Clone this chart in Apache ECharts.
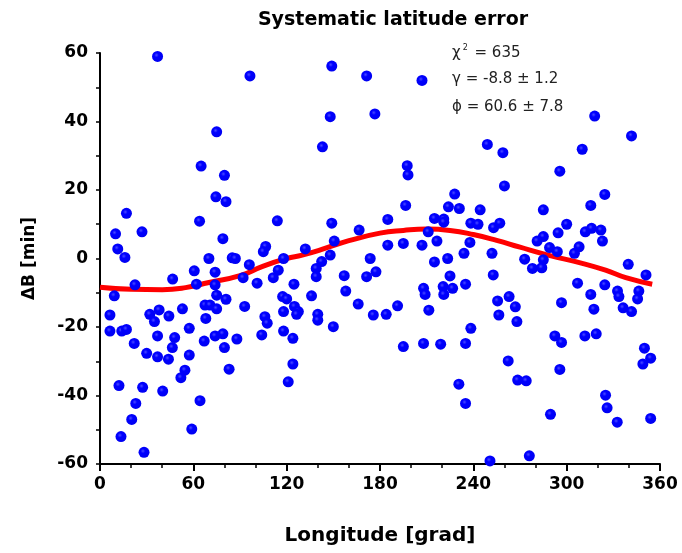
<!DOCTYPE html>
<html>
<head>
<meta charset="utf-8">
<script src="https://cdn.jsdelivr.net/npm/echarts@6/dist/echarts.min.js"></script>
<style>html,body{margin:0;padding:0;background:#fff}#c{width:682px;height:553px}</style>
</head>
<body>
<div id="c"></div>
<script>
// Chart values
var titleText = 'Systematic latitude error';
var xName = 'Longitude [grad]';
var yName = '\u0394B [min]';
var xTicks = [0, 60, 120, 180, 240, 300, 360];
var yTicks = [-60, -40, -20, 0, 20, 40, 60];
var fitLines = ['\u03c7{s|2} = 635', '\u03b3 = -8.8 \u00b1 1.2', '\u03d5 = 60.6 \u00b1 7.8'];

// Observed points [longitude, deltaB]
var pointsA = [[37,59],[75,37],[65,27],[80,24.3],[74.5,18],[81,16.6],[17,13.2],[64,10.9],[10,7.2],[27,7.8],[79,5.8],[11.4,2.8],[16,0.3],[70,0],[85,0.2]];
var pointsB = [[96.4,53.3],[149,56.2],[171.4,53.3],[148,41.4],[176.7,42.2],[143,32.6],[114,11],[149,10.3],[166.6,8.3],[106.5,3.5],[105,2],[150.6,5.1],[132,2.8],[148,1],[142.5,-0.9],[118,0],[173.7,0],[87,0],[96,-1.8]];
var pointsC = [[207,52],[249,33.3],[259,30.9],[197.5,27.1],[198,24.4],[260,21.2],[228,18.8],[196.5,15.5],[224,15.1],[231,14.6],[244.4,14.2],[185,11.4],[215,11.7],[221,11.5],[221,10.6],[238.4,10.3],[243,10],[253,9],[257,10.3],[211,7.8],[185,3.9],[195,4.4],[207,3.9],[216.6,5.1],[237.8,4.7],[234,1.5],[223.5,0],[215,-1],[252,1.5]];
var pointsD = [[318,41.6],[341.7,35.8],[310,31.9],[295.6,25.5],[324.5,18.7],[315.5,15.5],[285,14.2],[300,10],[294.5,7.5],[312,7.8],[316,8.8],[322,8.3],[323,5.1],[285,6.4],[281,5.1],[289,3.2],[294,2],[308,3.4],[305,1.5],[273,-0.2],[285,-0.4],[339.6,-1.7]];
var pointsE = [[60.6,-3.6],[74,-4],[46.7,-6],[22.5,-7.7],[62,-7.5],[74,-7.7],[75,-10.7],[9.2,-10.9],[81,-11.9],[67.5,-13.6],[70.7,-13.6],[75,-14.7],[53,-14.7],[38,-15],[32,-16.3],[35,-18.4],[44.3,-16.8],[6.4,-16.5],[68,-17.5],[57.4,-20.4],[6.4,-21.2],[14,-21.2],[17,-20.7],[37,-22.6],[48,-23.1],[74,-22.6],[79,-22],[67,-24.1],[88,-23.5],[22,-24.8],[46.5,-26],[80,-26],[30,-27.7],[37,-28.7],[44,-29.4],[57.4,-28.2],[54.6,-32.6],[52,-34.8],[83,-32.3],[12.2,-37.1],[27.4,-37.6],[40.3,-38.7],[23,-42.3],[64.3,-41.5],[20.4,-47],[13.5,-52],[59,-49.8],[28.3,-56.6]];
var pointsF = [[92,-5.6],[101,-7.2],[111.4,-5.6],[114.6,-3.4],[124.7,-7.5],[117.4,-11.1],[120,-11.8],[136,-10.9],[139,-2.9],[139,-5.3],[157,-5],[158,-9.5],[171.4,-5.3],[177.4,-3.9],[166,-13.3],[175.7,-16.5],[93,-14],[106,-17],[107.5,-18.9],[118,-15.5],[125,-14],[127.5,-15.5],[126.4,-16.3],[140,-16.3],[140,-18],[150,-19.9],[104,-22.3],[118,-21.2],[124,-23.3],[124,-30.8],[121,-36]];
var pointsG = [[225,-5.1],[235,-7.5],[252.8,-4.8],[208,-8.7],[209,-10.5],[220.6,-8.2],[226.7,-8.7],[221,-10.5],[191.3,-13.8],[184,-16.3],[211.4,-15.1],[238.4,-20.4],[255.6,-12.4],[263,-11.1],[267,-14.1],[256.4,-16.5],[268,-18.4],[195,-25.7],[208,-24.8],[219,-25],[235,-24.8],[262.4,-29.9],[268.5,-35.5],[230.7,-36.7],[235,-42.3],[250.7,-59.1]];
var pointsH = [[284,-2.7],[278,-2.9],[351,-4.8],[307,-7.2],[324.5,-7.7],[315.5,-10.5],[332.7,-9.5],[333.6,-11.1],[346.4,-9.5],[345.6,-11.8],[336.3,-14.4],[341.7,-15.5],[296.7,-12.9],[317.5,-14.8],[292.4,-22.6],[296.7,-24.5],[311.7,-22.6],[319,-22],[350,-26.2],[354,-29.1],[349,-30.8],[295.6,-32.4],[274,-35.7],[325,-39.9],[326,-43.6],[332.5,-47.8],[354,-46.7],[289.6,-45.5],[276,-57.6]];

// Fitted curve
var fitX = [0, 20, 40, 55, 70, 90, 105, 120, 130, 145, 160, 180, 195, 210, 225, 240, 255, 270, 288, 310, 325, 338, 355];
var fitY = [-8.4, -9, -9.1, -8.5, -7, -5, -2.2, 0, 1, 3, 5.2, 7.4, 8.2, 8.6, 8.2, 7, 5.3, 3.3, 1, -1.4, -3.4, -5.6, -7.5];

var points = [].concat(pointsA, pointsB, pointsC, pointsD, pointsE, pointsF, pointsG, pointsH);
var fitData = fitX.map(function (x, i) { return [x, fitY[i]]; });

var FONT = 'DejaVu Sans';
var chart = echarts.init(document.getElementById('c'), null, {renderer: 'canvas'});
chart.setOption({
  animation: false,
  backgroundColor: '#ffffff',
  title: {
    text: titleText, left: 388, top: 6, textAlign: 'center',
    textStyle: {fontFamily: FONT, fontSize: 19, fontWeight: 'bold', color: '#000'}
  },
  grid: {left: 100, right: 22, top: 53, bottom: 89, containLabel: false},
  xAxis: {
    type: 'value', min: xTicks[0], max: xTicks[xTicks.length - 1], interval: 60,
    name: xName, nameLocation: 'middle', nameGap: 62,
    nameTextStyle: {fontFamily: FONT, fontSize: 20, fontWeight: 'bold', color: '#000'},
    axisLine: {onZero: false, lineStyle: {color: '#000', width: 2}},
    axisTick: {inside: false, length: 7, lineStyle: {color: '#000', width: 2}},
    minorTick: {show: true, splitNumber: 3, length: 4, lineStyle: {color: '#000', width: 1.5}},
    splitLine: {show: false},
    axisLabel: {fontFamily: FONT, fontSize: 17, fontWeight: 'bold', color: '#000', margin: 12,
      formatter: function (v) { return xTicks.indexOf(v) >= 0 ? String(v) : ''; }}
  },
  yAxis: {
    type: 'value', min: yTicks[0], max: yTicks[yTicks.length - 1], interval: 10,
    name: yName, nameLocation: 'middle', nameGap: 62, nameRotate: 90,
    nameTextStyle: {fontFamily: FONT, fontSize: 17, fontWeight: 'bold', color: '#000'},
    axisLine: {onZero: false, lineStyle: {color: '#000', width: 2}},
    axisTick: {inside: false, length: 4, lineStyle: {color: '#000', width: 1.5}},
    splitLine: {show: false},
    axisLabel: {fontFamily: FONT, fontSize: 17, fontWeight: 'bold', color: '#000', margin: 12,
      formatter: function (v) { return yTicks.indexOf(v) >= 0 ? String(v) : ''; }}
  },
  graphic: fitLines.map(function (t, i) {
    return {
      type: 'text', left: 452, top: 44 + i * 28, z: 100,
      style: {
        text: t, fill: '#222', font: '15px "' + FONT + '"',
        rich: {s: {fontSize: 8, verticalAlign: 'top', padding: [0, 2, 10, 2], fill: '#222', fontFamily: FONT}}
      }
    };
  }),
  series: [
    {
      type: 'line', data: fitData, smooth: true, showSymbol: false, z: 1,
      lineStyle: {color: '#ff0000', width: 5}
    },
    {
      type: 'scatter', data: points, symbol: 'circle', symbolSize: 11, z: 2,
      itemStyle: {
        opacity: 1,
        color: {type: 'radial', x: 0.4, y: 0.38, r: 0.6,
          colorStops: [{offset: 0, color: '#4a4aff'}, {offset: 0.35, color: '#0000ff'}, {offset: 1, color: '#0000f2'}]}
      }
    }
  ]
});
</script>
</body>
</html>
